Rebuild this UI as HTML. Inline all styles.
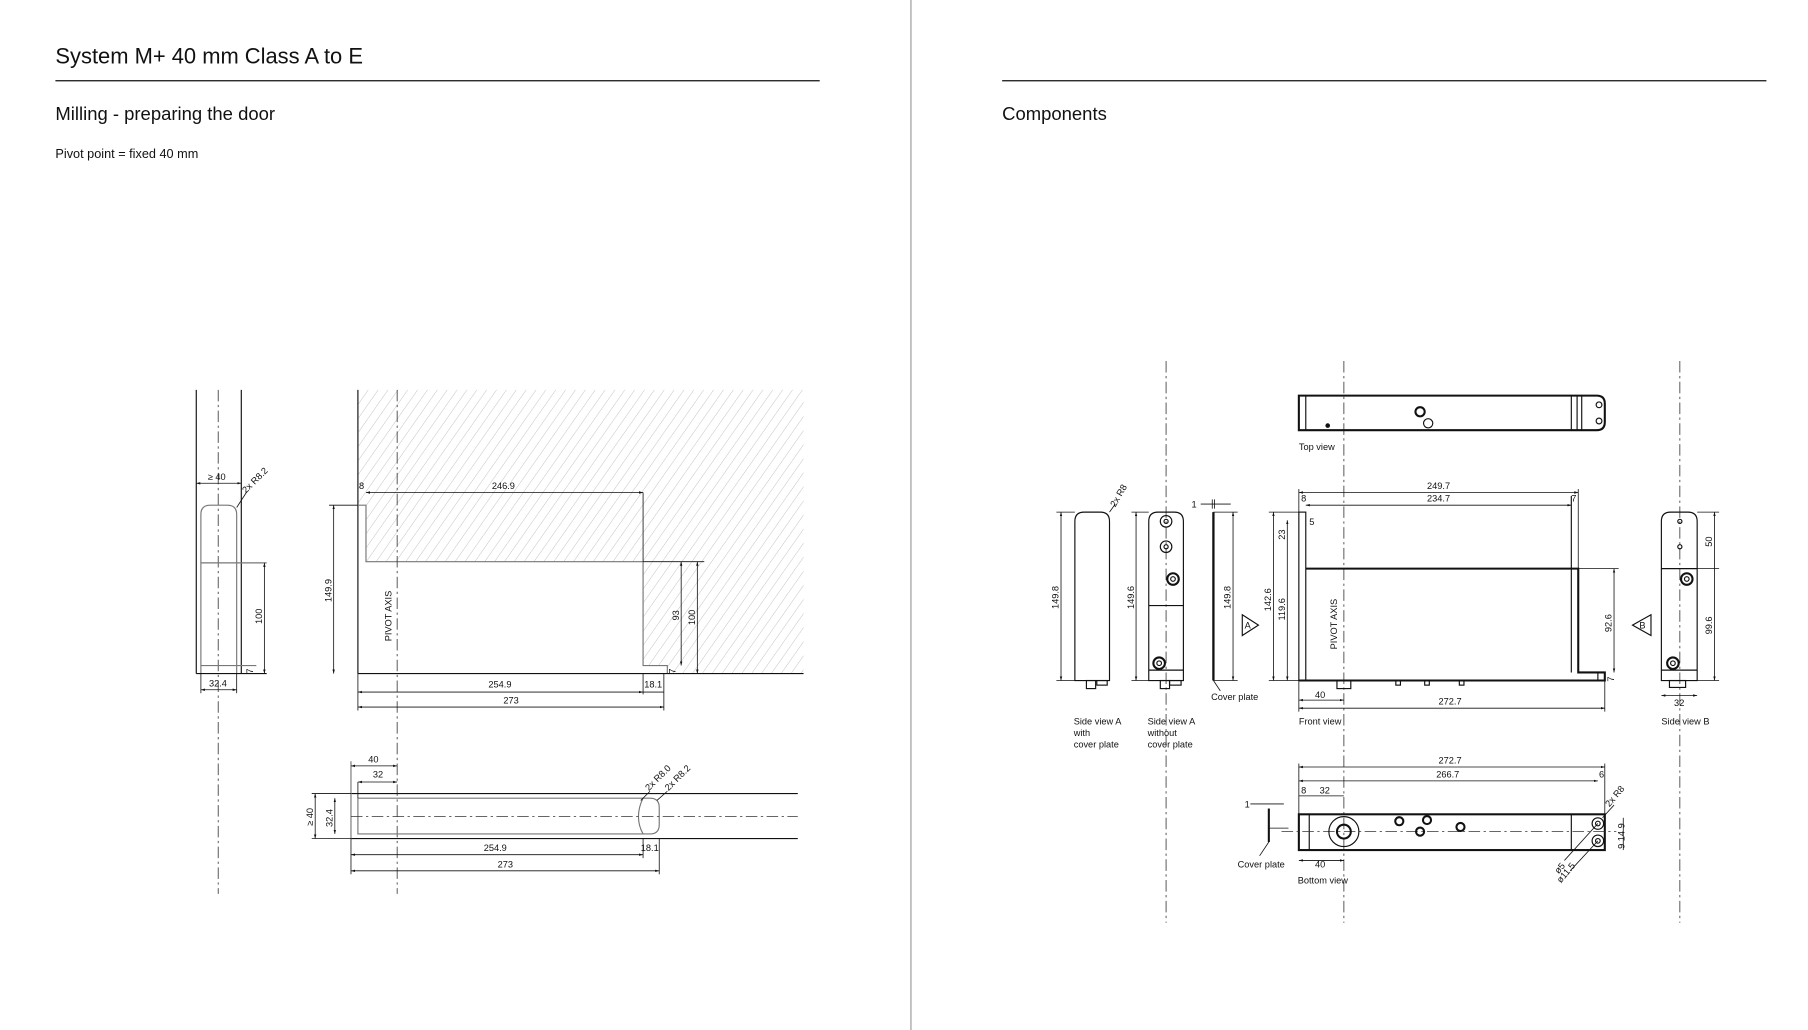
<!DOCTYPE html>
<html><head><meta charset="utf-8"><style>
html,body{margin:0;padding:0;background:#fff}
svg{display:block}
text{font-family:"Liberation Sans",sans-serif;fill:#111}
.t{font-size:8px}
.l{stroke:#111;stroke-width:1;fill:none}
.th{stroke:#111;stroke-width:1.8;fill:none}
.g{stroke:#777;stroke-width:1;fill:none}
.d{stroke:#111;stroke-width:0.7;fill:none}
.c{stroke:#333;stroke-width:0.7;fill:none;stroke-dasharray:10 3 2 3}
</style></head><body>
<svg width="1808" height="1030" viewBox="0 0 1566 893" preserveAspectRatio="none" xmlns="http://www.w3.org/2000/svg">
<defs>
<pattern id="h" patternUnits="userSpaceOnUse" width="7" height="7" patternTransform="rotate(35)">
<line x1="0" y1="0" x2="0" y2="7" stroke="#aaa" stroke-width="0.6"/>
</pattern>
<marker id="a" viewBox="0 0 10 10" refX="10" refY="5" markerWidth="5" markerHeight="5" orient="auto-start-reverse"><path d="M0,2 L10,5 L0,8z" fill="#111"/></marker>
</defs>
<line x1="789" y1="0" x2="789" y2="893" stroke="#bbb" stroke-width="1.5"/>
<text x="48" y="55" style="font-size:19px">System M+ 40 mm Class A to E</text>
<line x1="48" y1="70" x2="710" y2="70" stroke="#111" stroke-width="1"/>
<line x1="868" y1="70" x2="1530" y2="70" stroke="#111" stroke-width="1"/>
<text x="48" y="104" style="font-size:16px">Milling - preparing the door</text>
<text x="868" y="104" style="font-size:16px">Components</text>
<text x="48" y="137" style="font-size:11px">Pivot point = fixed 40 mm</text>

<line class="l" x1="170" y1="338" x2="170" y2="584"/>
<line class="l" x1="209" y1="338" x2="209" y2="584"/>
<line class="c" x1="189" y1="338" x2="189" y2="775"/>
<path class="g" d="M174,584 V446 Q174,438 182,438 H197 Q205,438 205,446 V584"/>
<line class="g" x1="174" y1="488" x2="231" y2="488"/>
<line class="g" x1="174" y1="577" x2="222" y2="577"/>
<line class="l" x1="170" y1="584" x2="231" y2="584"/>
<line class="d" x1="170" y1="419" x2="209" y2="419" marker-start="url(#a)" marker-end="url(#a)"/>
<text class="t" x="180" y="416">≥ 40</text>
<line class="d" x1="205" y1="440" x2="214" y2="426"/>
<text class="t" transform="translate(213,428) rotate(-45)">2x R8.2</text>
<line class="d" x1="229" y1="488" x2="229" y2="584" marker-start="url(#a)" marker-end="url(#a)"/>
<text class="t" transform="translate(227,541) rotate(-90)">100</text>
<text class="t" transform="translate(219,584) rotate(-90)">7</text>
<line class="d" x1="174" y1="598" x2="205" y2="598" marker-start="url(#a)" marker-end="url(#a)"/>
<line class="d" x1="174" y1="584" x2="174" y2="601"/><line class="d" x1="205" y1="584" x2="205" y2="601"/>
<text class="t" x="181" y="595">32.4</text>

<path d="M310,338 H696 V584 H578 V577 H557 V487 H317 V438 H310 Z" fill="url(#h)"/>
<line class="l" x1="310" y1="338" x2="310" y2="584"/>
<path class="g" d="M310,438 H317 V487 H557 V577 H578 V584"/>
<line class="l" x1="310" y1="584" x2="696" y2="584"/>
<line class="c" x1="344" y1="338" x2="344" y2="775"/>
<line class="d" x1="557" y1="487" x2="610" y2="487"/>
<line class="d" x1="317" y1="427" x2="557" y2="427" marker-start="url(#a)" marker-end="url(#a)"/>
<line class="d" x1="557" y1="427" x2="557" y2="487"/>
<text class="t" x="311" y="424">8</text><text class="t" x="426" y="424">246.9</text>
<line class="d" x1="289" y1="438" x2="289" y2="584" marker-start="url(#a)" marker-end="url(#a)"/>
<line class="d" x1="285" y1="438" x2="310" y2="438"/>
<text class="t" transform="translate(287,522) rotate(-90)">149.9</text>
<text class="t" transform="translate(339,556) rotate(-90)">PIVOT AXIS</text>
<line class="d" x1="590" y1="487" x2="590" y2="577" marker-start="url(#a)" marker-end="url(#a)"/>
<text class="t" transform="translate(588,538) rotate(-90)">93</text>
<line class="d" x1="604" y1="487" x2="604" y2="584" marker-start="url(#a)" marker-end="url(#a)"/>
<text class="t" transform="translate(602,542) rotate(-90)">100</text>
<text class="t" transform="translate(585,584) rotate(-90)">7</text>
<line class="d" x1="310" y1="600" x2="557" y2="600" marker-start="url(#a)" marker-end="url(#a)"/>
<line class="d" x1="557" y1="600" x2="575" y2="600"/>
<line class="d" x1="557" y1="584" x2="557" y2="602"/><line class="d" x1="575" y1="584" x2="575" y2="616"/><line class="d" x1="310" y1="584" x2="310" y2="616"/>
<text class="t" x="423" y="596">254.9</text><text class="t" x="558" y="596">18.1</text>
<line class="d" x1="310" y1="613" x2="575" y2="613" marker-start="url(#a)" marker-end="url(#a)"/>
<text class="t" x="436" y="610">273</text>

<line class="l" x1="304" y1="688" x2="691" y2="688"/>
<line class="l" x1="304" y1="727" x2="691" y2="727"/>
<line class="g" x1="304" y1="660" x2="304" y2="727"/>
<path class="g" d="M310,692 H563 Q571,692 571,700 V715 Q571,723 563,723 H310 Z"/>
<path class="g" d="M557,692 Q553,700 553,708 Q553,716 557,723"/>
<line class="c" x1="304" y1="708" x2="691" y2="708"/>
<line class="d" x1="304" y1="664" x2="344" y2="664" marker-start="url(#a)" marker-end="url(#a)"/>
<text class="t" x="319" y="661">40</text>
<line class="d" x1="310" y1="678" x2="344" y2="678" marker-start="url(#a)" marker-end="url(#a)"/>
<line class="d" x1="310" y1="678" x2="310" y2="692"/>
<text class="t" x="323" y="674">32</text>
<line class="d" x1="273" y1="688" x2="273" y2="727" marker-start="url(#a)" marker-end="url(#a)"/>
<line class="d" x1="270" y1="688" x2="304" y2="688"/><line class="d" x1="270" y1="727" x2="304" y2="727"/>
<text class="t" transform="translate(271,716) rotate(-90)">≥ 40</text>
<line class="d" x1="290" y1="692" x2="290" y2="723" marker-start="url(#a)" marker-end="url(#a)"/>
<text class="t" transform="translate(288,717) rotate(-90)">32.4</text>
<line class="d" x1="304" y1="741" x2="557" y2="741" marker-start="url(#a)" marker-end="url(#a)"/>
<line class="d" x1="557" y1="727" x2="557" y2="744"/><line class="d" x1="571" y1="727" x2="571" y2="758"/><line class="d" x1="304" y1="727" x2="304" y2="758"/>
<text class="t" x="419" y="738">254.9</text><text class="t" x="555" y="738">18.1</text>
<line class="d" x1="304" y1="755" x2="571" y2="755" marker-start="url(#a)" marker-end="url(#a)"/>
<text class="t" x="431" y="752">273</text>
<line class="d" x1="555" y1="694" x2="563" y2="686"/><line class="d" x1="569" y1="694" x2="578" y2="686"/>
<text class="t" transform="translate(562,686) rotate(-45)">2x R8.0</text>
<text class="t" transform="translate(579,686) rotate(-45)">2x R8.2</text>

<line class="c" x1="1010" y1="313" x2="1010" y2="800"/>
<line class="c" x1="1164" y1="313" x2="1164" y2="800"/>
<line class="c" x1="1455" y1="313" x2="1455" y2="800"/>

<path class="th" d="M1125,343 H1383 Q1390,343 1390,350 V366 Q1390,373 1383,373 H1125 Z"/>
<line class="l" x1="1131" y1="343" x2="1131" y2="373"/>
<line class="l" x1="1361" y1="343" x2="1361" y2="373"/><line class="l" x1="1366" y1="343" x2="1366" y2="373"/><line class="l" x1="1370" y1="343" x2="1370" y2="373"/>
<circle cx="1385" cy="351" r="2.5" class="l"/><circle cx="1385" cy="365" r="2.5" class="l"/>
<circle cx="1150" cy="369" r="2" fill="#111"/>
<circle cx="1230" cy="357" r="4" class="th"/><circle cx="1237" cy="367" r="4" class="l"/>
<text class="t" x="1125" y="390">Top view</text>

<path class="l" d="M931,590 V452 Q931,444 939,444 H953 Q961,444 961,452 V590 Z"/>
<rect x="941" y="590" width="8" height="7" class="l"/><rect x="950" y="590" width="9" height="4" class="l"/>
<line class="d" x1="919" y1="444" x2="919" y2="590" marker-start="url(#a)" marker-end="url(#a)"/>
<line class="d" x1="915" y1="444" x2="931" y2="444"/><line class="d" x1="915" y1="590" x2="931" y2="590"/>
<text class="t" transform="translate(917,528) rotate(-90)">149.8</text>
<line class="d" x1="961" y1="444" x2="966" y2="437"/>
<text class="t" transform="translate(966,440) rotate(-60)">2x R8</text>
<text class="t" x="930" y="628">Side view A</text><text class="t" x="930" y="638">with</text><text class="t" x="930" y="648">cover plate</text>

<path class="l" d="M995,590 V452 Q995,444 1003,444 H1017 Q1025,444 1025,452 V590 Z"/>
<line class="l" x1="995" y1="525" x2="1025" y2="525"/><line class="l" x1="995" y1="581" x2="1025" y2="581"/>
<circle cx="1010" cy="452" r="5" class="l"/><circle cx="1010" cy="452" r="1.8" class="l"/>
<circle cx="1010" cy="474" r="5" class="l"/><circle cx="1010" cy="474" r="1.8" class="l"/>
<circle cx="1016" cy="502" r="5" class="th"/><circle cx="1016" cy="502" r="2" class="l"/>
<circle cx="1004" cy="575" r="5" class="th"/><circle cx="1004" cy="575" r="2" class="l"/>
<rect x="1005" y="590" width="8" height="7" class="l"/><rect x="1013" y="590" width="10" height="4" class="l"/>
<line class="d" x1="984" y1="444" x2="984" y2="590" marker-start="url(#a)" marker-end="url(#a)"/>
<line class="d" x1="980" y1="444" x2="995" y2="444"/><line class="d" x1="980" y1="590" x2="995" y2="590"/>
<text class="t" transform="translate(982,528) rotate(-90)">149.6</text>
<text class="t" x="994" y="628">Side view A</text><text class="t" x="994" y="638">without</text><text class="t" x="994" y="648">cover plate</text>

<line x1="1051" y1="444" x2="1051" y2="590" stroke="#111" stroke-width="2"/>
<line class="d" x1="1068" y1="444" x2="1068" y2="590" marker-start="url(#a)" marker-end="url(#a)"/>
<line class="d" x1="1051" y1="444" x2="1072" y2="444"/><line class="d" x1="1051" y1="590" x2="1072" y2="590"/>
<text class="t" transform="translate(1066,528) rotate(-90)">149.8</text>
<line class="d" x1="1040" y1="437" x2="1066" y2="437"/><line class="d" x1="1050" y1="433" x2="1050" y2="441"/><line class="d" x1="1052" y1="433" x2="1052" y2="441"/>
<text class="t" x="1032" y="440">1</text>
<line class="d" x1="1051" y1="590" x2="1057" y2="599"/>
<text class="t" x="1049" y="607">Cover plate</text>
<path class="l" d="M1076,533 L1090,542 L1076,551 Z"/><text class="t" x="1078" y="545">A</text>

<rect x="1125" y="444" width="6" height="146" class="l"/>
<path class="th" d="M1131,493 H1367 V583 H1390 V590 H1125"/>
<line class="l" x1="1361" y1="430" x2="1361" y2="583"/>
<line class="l" x1="1384" y1="583" x2="1384" y2="590"/>
<rect x="1158" y="590" width="12" height="7" class="l"/>
<rect x="1209" y="590" width="4" height="4" class="l"/><rect x="1234" y="590" width="4" height="4" class="l"/><rect x="1264" y="590" width="4" height="4" class="l"/>
<line class="d" x1="1125" y1="427" x2="1367" y2="427" marker-start="url(#a)" marker-end="url(#a)"/>
<text class="t" x="1236" y="424">249.7</text>
<line class="d" x1="1131" y1="438" x2="1361" y2="438" marker-start="url(#a)" marker-end="url(#a)"/>
<line class="d" x1="1125" y1="424" x2="1125" y2="444"/><line class="d" x1="1367" y1="424" x2="1367" y2="493"/>
<text class="t" x="1127" y="435">8</text><text class="t" x="1236" y="435">234.7</text><text class="t" x="1361" y="435">7</text>
<line class="d" x1="1103" y1="444" x2="1103" y2="590" marker-start="url(#a)" marker-end="url(#a)"/>
<line class="d" x1="1115" y1="451" x2="1115" y2="590" marker-start="url(#a)" marker-end="url(#a)"/>
<line class="d" x1="1099" y1="590" x2="1125" y2="590"/><line class="d" x1="1099" y1="444" x2="1125" y2="444"/>
<text class="t" transform="translate(1101,530) rotate(-90)">142.6</text>
<text class="t" transform="translate(1113,538) rotate(-90)">119.6</text>
<text class="t" transform="translate(1113,468) rotate(-90)">23</text>
<text class="t" x="1134" y="455">5</text>
<text class="t" transform="translate(1158,563) rotate(-90)">PIVOT AXIS</text>
<line class="d" x1="1398" y1="493" x2="1398" y2="583" marker-start="url(#a)" marker-end="url(#a)"/>
<line class="d" x1="1367" y1="493" x2="1402" y2="493"/>
<text class="t" transform="translate(1396,548) rotate(-90)">92.6</text>
<text class="t" transform="translate(1398,591) rotate(-90)">7</text>
<line class="d" x1="1125" y1="607" x2="1164" y2="607" marker-start="url(#a)" marker-end="url(#a)"/>
<text class="t" x="1139" y="605">40</text>
<line class="d" x1="1125" y1="614" x2="1390" y2="614" marker-start="url(#a)" marker-end="url(#a)"/>
<line class="d" x1="1125" y1="590" x2="1125" y2="617"/><line class="d" x1="1390" y1="590" x2="1390" y2="617"/>
<text class="t" x="1246" y="611">272.7</text>
<text class="t" x="1125" y="628">Front view</text>
<path class="l" d="M1430,533 L1414,542 L1430,551 Z"/><text class="t" x="1420" y="545">B</text>

<path class="l" d="M1439,590 V452 Q1439,444 1447,444 H1462 Q1470,444 1470,452 V590 Z"/>
<line class="l" x1="1439" y1="493" x2="1470" y2="493"/><line class="l" x1="1439" y1="581" x2="1470" y2="581"/>
<circle cx="1455" cy="452" r="1.8" class="l"/><circle cx="1455" cy="474" r="1.8" class="l"/>
<circle cx="1461" cy="502" r="5" class="th"/><circle cx="1461" cy="502" r="2" class="l"/>
<circle cx="1449" cy="575" r="5" class="th"/><circle cx="1449" cy="575" r="2" class="l"/>
<rect x="1446" y="590" width="14" height="6" class="l"/>
<line class="d" x1="1485" y1="444" x2="1485" y2="590" marker-start="url(#a)" marker-end="url(#a)"/>
<line class="d" x1="1470" y1="444" x2="1489" y2="444"/><line class="d" x1="1470" y1="590" x2="1489" y2="590"/><line class="d" x1="1470" y1="493" x2="1489" y2="493"/>
<text class="t" transform="translate(1483,474) rotate(-90)">50</text>
<text class="t" transform="translate(1483,550) rotate(-90)">99.6</text>
<line class="d" x1="1439" y1="603" x2="1470" y2="603" marker-start="url(#a)" marker-end="url(#a)"/>
<text class="t" x="1450" y="612">32</text>
<text class="t" x="1439" y="628">Side view B</text>

<rect x="1125" y="706" width="265" height="31" class="th"/>
<line class="l" x1="1134" y1="706" x2="1134" y2="737"/><line class="l" x1="1361" y1="706" x2="1361" y2="737"/>
<line class="c" x1="1110" y1="721" x2="1400" y2="721"/>
<circle cx="1164" cy="721" r="13" class="l"/><circle cx="1164" cy="721" r="6" class="th"/>
<circle cx="1212" cy="712" r="3.5" class="th"/><circle cx="1236" cy="711" r="3.5" class="th"/><circle cx="1230" cy="721" r="3.5" class="th"/><circle cx="1265" cy="717" r="3.5" class="th"/>
<circle cx="1384" cy="714" r="5" class="l"/><circle cx="1384" cy="714" r="2" class="l"/>
<circle cx="1384" cy="729" r="5" class="l"/><circle cx="1384" cy="729" r="2" class="l"/>
<line class="d" x1="1125" y1="665" x2="1390" y2="665" marker-start="url(#a)" marker-end="url(#a)"/>
<text class="t" x="1246" y="662">272.7</text>
<line class="d" x1="1125" y1="677" x2="1384" y2="677" marker-start="url(#a)" marker-end="url(#a)"/>
<text class="t" x="1244" y="674">266.7</text><text class="t" x="1385" y="674">6</text>
<line class="d" x1="1125" y1="662" x2="1125" y2="706"/><line class="d" x1="1390" y1="662" x2="1390" y2="706"/>
<line class="d" x1="1125" y1="690" x2="1164" y2="690"/>
<text class="t" x="1127" y="688">8</text><text class="t" x="1143" y="688">32</text>
<line class="d" x1="1125" y1="746" x2="1164" y2="746" marker-start="url(#a)" marker-end="url(#a)"/>
<text class="t" x="1139" y="752">40</text>
<text class="t" x="1124" y="766">Bottom view</text>
<line x1="1099" y1="701" x2="1099" y2="730" stroke="#111" stroke-width="1.8"/>
<line class="d" x1="1083" y1="697" x2="1112" y2="697"/><line class="d" x1="1099" y1="718" x2="1116" y2="718"/>
<text class="t" x="1078" y="700">1</text>
<line class="d" x1="1099" y1="730" x2="1091" y2="742"/>
<text class="t" x="1072" y="752">Cover plate</text>
<line class="d" x1="1406" y1="709" x2="1406" y2="737"/>
<text class="t" transform="translate(1407,736) rotate(-90)">9 14 9</text>
<line class="d" x1="1384" y1="714" x2="1355" y2="746"/><line class="d" x1="1384" y1="729" x2="1360" y2="755"/>
<text class="t" transform="translate(1350,758) rotate(-50)">ø5</text>
<text class="t" transform="translate(1352,766) rotate(-50)">ø11.5</text>
<line class="d" x1="1388" y1="709" x2="1398" y2="698"/>
<text class="t" transform="translate(1394,700) rotate(-50)">2x R8</text>
</svg>
</body></html>
